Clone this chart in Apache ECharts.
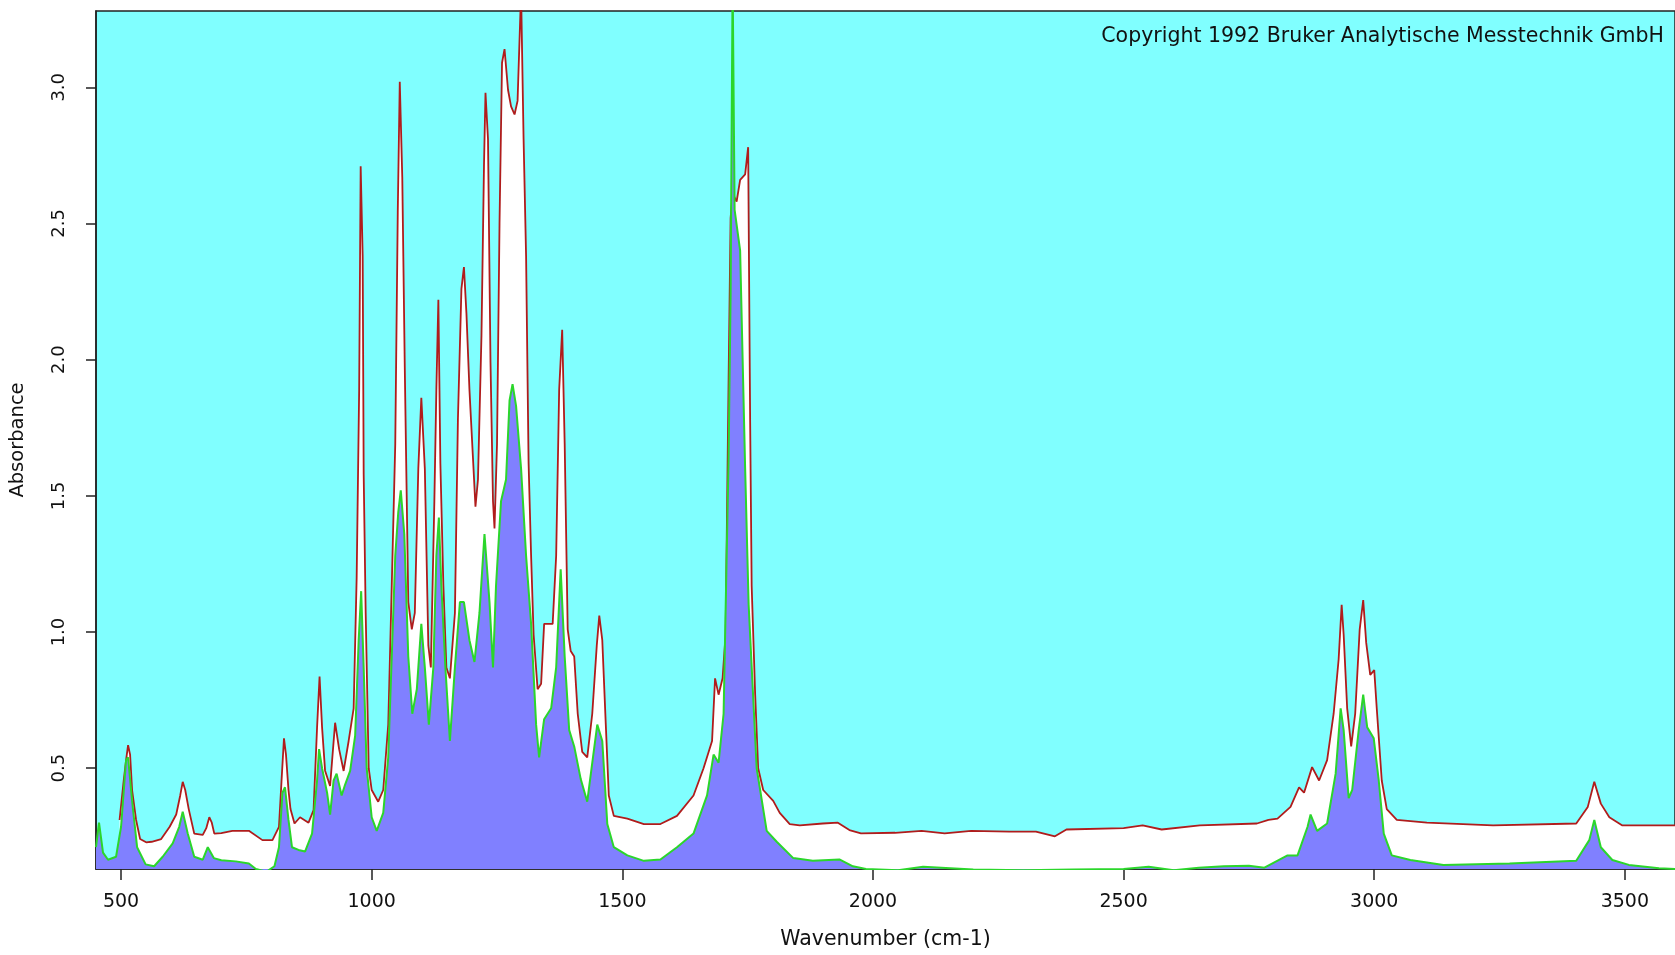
<!DOCTYPE html>
<html>
<head>
<meta charset="utf-8">
<title>IR spectrum</title>
<script src="https://cdn.jsdelivr.net/npm/echarts@6/dist/echarts.min.js"></script>
<style>
  html,body{margin:0;padding:0;background:#fff;}
  #chart{width:1675px;height:955px;}
</style>
</head>
<body>
<div id="chart"></div>
<script>
// upper trace (red)
var redWave = [497,505,510,514,518,522,530,538,550,561,580,597,610,618,623,628,635,646,663,670,676,681,686,700,722,755,782,802,815,820,825,829,834,838,846,857,874,884,891,896,901,907,917,927,935,944,954,964,970,975,978,982,984,988,994,1000,1013,1023,1033,1040,1047,1052,1056,1061,1066,1073,1080,1086,1093,1099,1106,1113,1118,1125,1129,1133,1137,1143,1149,1156,1166,1172,1179,1184,1189,1195,1202,1207,1212,1219,1224,1227,1232,1237,1242,1245,1250,1255,1260,1265,1272,1278,1285,1291,1298,1303,1308,1313,1318,1323,1331,1338,1344,1351,1361,1368,1374,1380,1385,1391,1397,1404,1411,1420,1430,1440,1449,1454,1460,1467,1473,1483,1510,1543,1576,1609,1642,1662,1679,1685,1692,1700,1706,1712,1716,1720,1728,1735,1745,1751,1755,1758,1765,1771,1781,1801,1814,1834,1854,1900,1930,1953,1976,2044,2097,2143,2196,2272,2325,2363,2386,2500,2538,2576,2652,2766,2789,2807,2833,2850,2860,2876,2890,2906,2919,2929,2935,2939,2946,2954,2962,2971,2978,2984,2992,3000,3005,3015,3025,3045,3105,3237,3403,3426,3439,3452,3469,3495,3600]
var redAbs = [0.31,0.45,0.53,0.585,0.55,0.42,0.31,0.24,0.228,0.23,0.24,0.285,0.33,0.40,0.45,0.42,0.35,0.26,0.255,0.28,0.32,0.30,0.26,0.262,0.27,0.27,0.236,0.236,0.285,0.45,0.61,0.55,0.42,0.35,0.297,0.32,0.30,0.346,0.649,0.837,0.65,0.491,0.435,0.667,0.57,0.49,0.6,0.72,1.2,1.89,2.71,2.38,1.58,1.07,0.5,0.42,0.377,0.42,0.66,1.17,1.69,2.54,3.02,2.67,1.97,1.11,1.01,1.07,1.60,1.86,1.60,0.95,0.87,1.48,1.89,2.22,1.62,1.17,0.87,0.83,1.07,1.78,2.26,2.34,2.17,1.89,1.64,1.46,1.56,2.09,2.71,2.98,2.81,1.99,1.48,1.38,1.69,2.50,3.09,3.14,2.99,2.93,2.90,2.95,3.35,2.81,2.38,1.62,1.28,0.99,0.79,0.81,1.03,1.03,1.03,1.28,1.89,2.11,1.69,1.01,0.93,0.91,0.70,0.56,0.54,0.70,0.95,1.06,0.97,0.66,0.40,0.325,0.315,0.295,0.295,0.325,0.40,0.50,0.60,0.83,0.77,0.83,0.99,1.93,2.52,2.61,2.58,2.66,2.68,2.78,1.77,1.17,0.77,0.50,0.42,0.38,0.336,0.295,0.29,0.297,0.30,0.273,0.261,0.263,0.27,0.261,0.27,0.267,0.267,0.25,0.275,0.28,0.29,0.275,0.29,0.297,0.31,0.315,0.358,0.43,0.41,0.504,0.455,0.53,0.70,0.90,1.10,0.99,0.72,0.58,0.70,1.01,1.117,0.96,0.843,0.86,0.72,0.455,0.35,0.31,0.30,0.29,0.297,0.358,0.45,0.37,0.32,0.29,0.29]

// lower trace (green)
var greenWave = [450,456,464,474,490,500,510,514,522,532,549,566,583,603,616,623,633,646,663,673,676,685,700,729,755,769,790,806,815,822,827,834,841,854,867,881,891,895,901,911,917,924,930,940,947,957,967,974,979,984,990,1000,1010,1023,1033,1040,1047,1053,1058,1065,1073,1081,1090,1099,1106,1114,1123,1129,1134,1139,1147,1156,1166,1176,1184,1195,1205,1215,1225,1235,1242,1248,1258,1268,1275,1281,1288,1298,1308,1318,1328,1334,1344,1358,1368,1377,1385,1394,1404,1417,1430,1440,1450,1460,1470,1483,1510,1543,1576,1609,1642,1669,1682,1692,1702,1712,1716,1720,1724,1735,1745,1752,1760,1768,1788,1808,1841,1880,1933,1960,1986,2050,2100,2200,2300,2400,2500,2550,2600,2650,2700,2750,2781,2827,2847,2867,2873,2886,2906,2923,2933,2939,2949,2956,2969,2978,2986,2999,3009,3019,3035,3072,3138,3270,3403,3429,3439,3452,3475,3508,3568,3600]
var greenAbs = [0.21,0.30,0.19,0.164,0.175,0.285,0.53,0.54,0.38,0.21,0.147,0.14,0.175,0.224,0.285,0.34,0.26,0.175,0.164,0.21,0.21,0.17,0.162,0.158,0.15,0.13,0.12,0.14,0.21,0.41,0.43,0.31,0.21,0.20,0.194,0.26,0.455,0.57,0.50,0.41,0.33,0.455,0.48,0.40,0.44,0.49,0.62,0.97,1.15,0.87,0.5,0.32,0.27,0.336,0.54,0.91,1.28,1.44,1.52,1.36,0.91,0.70,0.79,1.03,0.87,0.66,0.87,1.28,1.42,1.17,0.87,0.60,0.87,1.11,1.11,0.97,0.89,1.07,1.36,1.11,0.87,1.17,1.48,1.56,1.85,1.91,1.83,1.60,1.28,1.03,0.66,0.54,0.68,0.72,0.87,1.23,0.91,0.64,0.58,0.46,0.377,0.52,0.66,0.60,0.295,0.21,0.18,0.16,0.165,0.21,0.26,0.40,0.55,0.52,0.70,1.64,2.24,3.40,2.55,2.40,1.60,1.10,0.80,0.50,0.27,0.23,0.17,0.16,0.165,0.14,0.13,0.125,0.138,0.128,0.125,0.128,0.13,0.138,0.125,0.135,0.14,0.142,0.135,0.18,0.18,0.285,0.33,0.27,0.297,0.48,0.72,0.64,0.39,0.42,0.64,0.77,0.65,0.61,0.455,0.26,0.18,0.163,0.145,0.15,0.16,0.236,0.31,0.21,0.163,0.145,0.133,0.13]

var xTicks = [500,1000,1500,2000,2500,3000,3500]
var yTicks = [0.5,1.0,1.5,2.0,2.5,3.0]

function pairs(xs,ys){
  var arr = []
  xs.forEach((x,i)=>{
    arr.push([x,ys[i]])
  })
  return arr
}

var chart = echarts.init(document.getElementById('chart'))
var fontFam = 'DejaVu Sans'

var option = {
  animation:false,
  backgroundColor:'#ffffff',
  title:{
    text:'Copyright 1992 Bruker Analytische Messtechnik GmbH',
    right:6,
    top:21,
    textStyle:{
      color:'#111',
      fontFamily:fontFam,
      fontWeight:'normal',
      fontSize:20.5
    }
  },
  grid:{
    show:true,
    left:93,
    top:11,
    right:-5,
    bottom:79,
    backgroundColor:'#80ffff',
    borderColor:'#222',
    borderWidth:1.5
  },
  xAxis:{
    type:'value',
    min:450,
    max:3600,
    name:'Wavenumber (cm-1)',
    nameLocation:'middle',
    nameGap:60,
    nameTextStyle:{color:'#111',fontFamily:fontFam,fontSize:20.5},
    splitLine:{show:false},
    axisLine:{show:true,lineStyle:{color:'#222',width:1.5}},
    axisTick:{show:true,length:11,customValues:xTicks,lineStyle:{color:'#222',width:1.5}},
    axisLabel:{
      customValues:xTicks,
      margin:24,
      color:'#111',
      fontFamily:fontFam,
      fontSize:19,
      formatter:(v)=>String(v)
    }
  },
  yAxis:{
    type:'value',
    min:0.13,
    max:3.28,
    name:'Absorbance',
    nameLocation:'middle',
    nameGap:68,
    nameRotate:90,
    nameTextStyle:{color:'#111',fontFamily:fontFam,fontSize:19.5},
    splitLine:{show:false},
    axisLine:{show:true,lineStyle:{color:'#222',width:1.5}},
    axisTick:{show:true,length:10,customValues:yTicks,lineStyle:{color:'#222',width:1.5}},
    axisLabel:{
      customValues:yTicks,
      rotate:90,
      margin:28,
      color:'#111',
      fontFamily:fontFam,
      fontSize:18,
      formatter:(v)=>v.toFixed(1)
    }
  },
  series:[{
    name:'upper',
    type:'line',
    data:pairs(redWave,redAbs),
    showSymbol:false,
    symbol:'none',
    lineStyle:{color:'#b01c1c',width:1.8},
    areaStyle:{color:'#ffffff',opacity:1},
    z:2
  },{
    name:'lower',
    type:'line',
    data:pairs(greenWave,greenAbs),
    showSymbol:false,
    symbol:'none',
    lineStyle:{color:'#2bd62b',width:2},
    areaStyle:{color:'#8080ff',opacity:1},
    z:3
  }]
}

chart.setOption(option)
</script>
</body>
</html>
